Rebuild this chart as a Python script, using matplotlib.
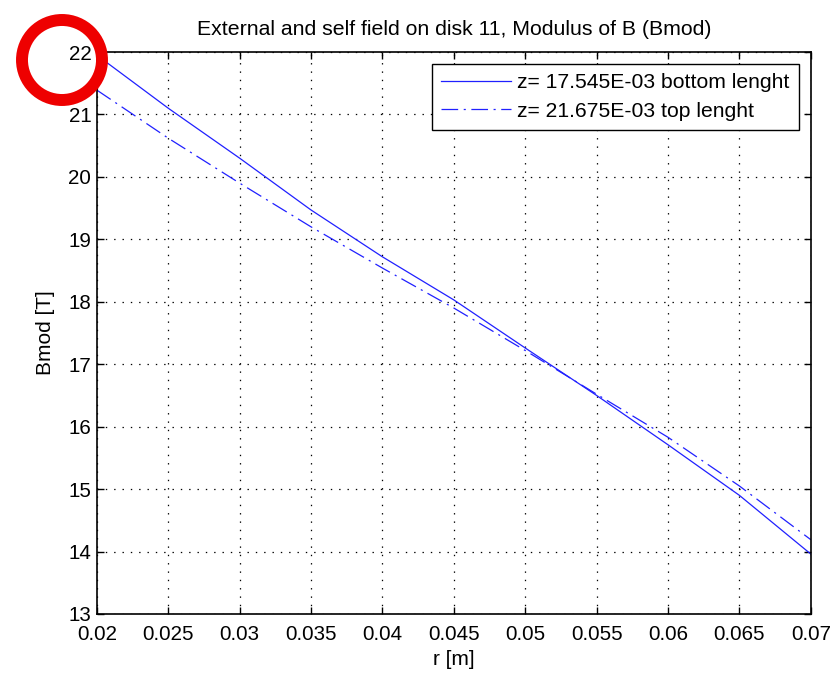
import matplotlib
matplotlib.use('Agg')
import matplotlib.pyplot as plt
from matplotlib.patches import Circle

plt.rcParams['font.family'] = ['Liberation Sans', 'DejaVu Sans']
plt.rcParams['lines.scale_dashes'] = False

# valeurs
r = [0.02, 0.025, 0.03, 0.035, 0.04, 0.045, 0.05, 0.055, 0.06, 0.065, 0.07]
b_bottom = [21.95, 21.10, 20.30, 19.47, 18.72, 18.03, 17.26, 16.50, 15.71, 14.90, 13.96]
b_top = [21.39, 20.62, 19.90, 19.20, 18.54, 17.90, 17.22, 16.52, 15.83, 15.05, 14.19]
xticks = [0.02, 0.025, 0.03, 0.035, 0.04, 0.045, 0.05, 0.055, 0.06, 0.065, 0.07]
xtick_labels = ['0.02', '0.025', '0.03', '0.035', '0.04', '0.045', '0.05', '0.055', '0.06', '0.065', '0.07']
yticks = [13, 14, 15, 16, 17, 18, 19, 20, 21, 22]

fig = plt.figure(figsize=(8.35, 6.73), dpi=100)
ax = fig.add_axes([0.116, 0.0877, 0.855, 0.835])

ax.plot(r, b_bottom, color='#2020ff', lw=0.9, label='z= 17.545E-03 bottom lenght')
ax.plot(r, b_top, color='#2020ff', lw=0.9, dashes=(12, 4, 1.5, 4), label='z= 21.675E-03 top lenght')

ax.set_xlim(0.02, 0.07)
ax.set_ylim(13, 22)
ax.set_xticks(xticks)
ax.set_xticklabels(xtick_labels)
ax.set_yticks(yticks)
ax.tick_params(direction='in', length=5, width=1, top=True, right=True, labelsize=14.8)
ax.tick_params(axis='x', pad=8)
ax.tick_params(axis='y', pad=4)
ax.grid(True, color='black', linestyle=(0, (1, 5)), linewidth=0.9)
for s in ax.spines.values():
    s.set_linewidth(1.2)

ax.set_xlabel('r [m]', fontsize=15, labelpad=4)
ax.set_ylabel('Bmod [T]', fontsize=15, labelpad=10)
ax.set_title('External and self field on disk 11, Modulus of B (Bmod)', fontsize=15.3, pad=12)

leg = ax.legend(loc='upper right', fontsize=15.2, fancybox=False, framealpha=1,
                edgecolor='black', handlelength=3.3, borderaxespad=0.55,
                labelspacing=0.45, handletextpad=0.3, borderpad=0.45)
leg.get_frame().set_linewidth(1.0)

# cercle rouge autour du 22
ring = Circle((0.62, 6.13), 0.40, transform=fig.dpi_scale_trans, fill=False,
              edgecolor='#ee0000', linewidth=8.6, clip_on=False)
fig.add_artist(ring)

fig.savefig('out.png', dpi=100)
